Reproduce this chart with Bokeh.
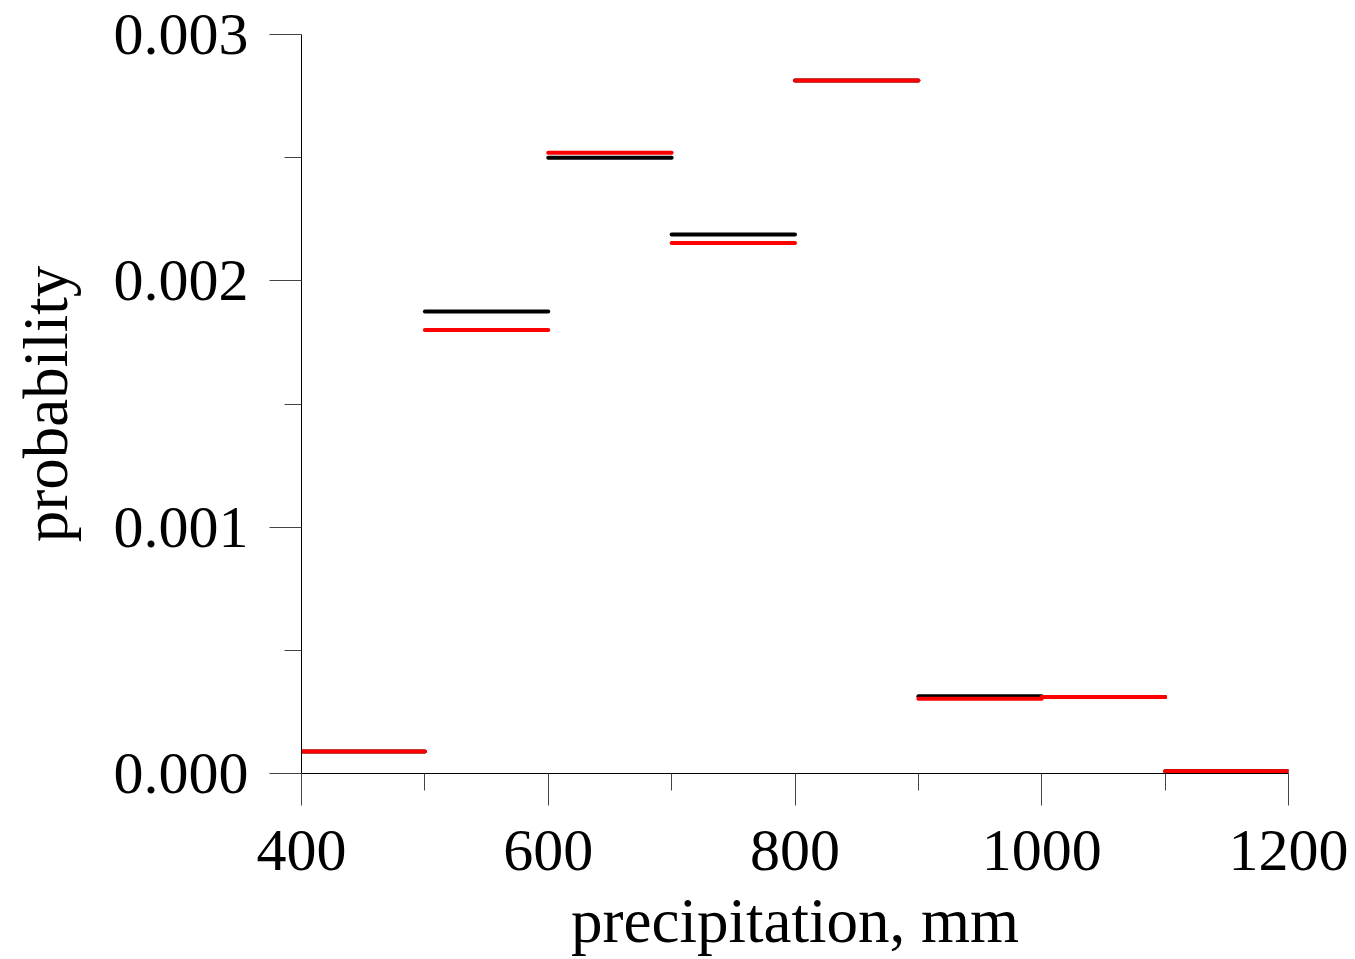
from bokeh.plotting import figure
from bokeh.models import Range1d, FixedTicker, NumeralTickFormatter, ColumnDataSource
from bokeh.embed import file_html
from bokeh.resources import INLINE

bin_left = [400, 500, 600, 700, 800, 900, 1000, 1100]
bin_right = [500, 600, 700, 800, 900, 1000, 1100, 1200]
prob_black = [0.000089, 0.001876, 0.002500, 0.002188, 0.002813, 0.000314, 0.000311, 0.0000093]
prob_red = [0.000089, 0.001800, 0.002520, 0.002154, 0.002813, 0.000303, 0.000311, 0.0000093]

x_major = [400, 600, 800, 1000, 1200]
x_minor = [500, 700, 900, 1100]
y_major = [0.0, 0.001, 0.002, 0.003]
y_minor = [0.0005, 0.0015, 0.0025]

p = figure(output_backend="svg", toolbar_location=None,
           frame_width=987, frame_height=739,
           min_border_left=301, min_border_right=62, min_border_top=34, min_border_bottom=180,
           x_range=Range1d(400, 1200), y_range=Range1d(0, 0.003))
p.grid.visible = False
p.outline_line_color = None
p.background_fill_color = "white"
p.border_fill_color = "white"

src_b = ColumnDataSource(dict(x0=bin_left, x1=bin_right, y=prob_black))
src_r = ColumnDataSource(dict(x0=bin_left, x1=bin_right, y=prob_red))
p.segment(x0="x0", y0="y", x1="x1", y1="y", source=src_b, line_color="black",
          line_width=4, line_cap="round")
p.segment(x0="x0", y0="y", x1="x1", y1="y", source=src_r, line_color="#ff0000",
          line_width=4, line_cap="round")

font = "Liberation Serif"
for ax in (p.xaxis[0], p.yaxis[0]):
    ax.axis_line_color = "black"
    ax.axis_line_width = 1
    ax.major_tick_line_color = "#444444"
    ax.minor_tick_line_color = "#444444"
    ax.major_tick_in = 0
    ax.minor_tick_in = 0
    ax.major_tick_out = 32
    ax.minor_tick_out = 17
    ax.major_label_text_font = font
    ax.major_label_text_font_size = "60px"
    ax.major_label_text_color = "black"
    ax.axis_label_text_font = font
    ax.axis_label_text_font_size = "63px"
    ax.axis_label_text_font_style = "normal"
    ax.axis_label_text_color = "black"

p.xaxis[0].ticker = FixedTicker(ticks=x_major, minor_ticks=x_minor)
p.yaxis[0].ticker = FixedTicker(ticks=y_major, minor_ticks=y_minor)
p.yaxis[0].formatter = NumeralTickFormatter(format="0.000")
p.xaxis[0].axis_label = "precipitation, mm"
p.yaxis[0].axis_label = "probability"
p.xaxis[0].major_label_standoff = 25
p.yaxis[0].major_label_standoff = 21
p.xaxis[0].axis_label_standoff = 13
p.yaxis[0].axis_label_standoff = 30

open("out.html", "w").write(file_html(p, INLINE))
